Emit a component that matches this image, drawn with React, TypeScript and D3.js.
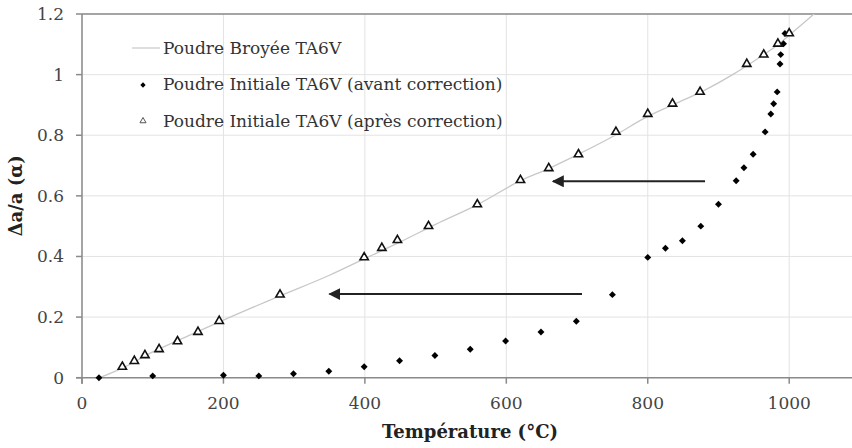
import React from 'react';
import * as d3 from 'd3';

// Poudre Broyée TA6V (courbe continue)
const broyeeT = [25, 60, 100, 150, 200, 280, 350, 400, 450, 500, 560, 620, 660, 700, 750, 800, 840, 880, 920, 960, 985, 1000, 1035, 1060];
const broyeeV = [0, 0.035, 0.085, 0.138, 0.19, 0.27, 0.338, 0.393, 0.448, 0.506, 0.572, 0.65, 0.69, 0.735, 0.795, 0.862, 0.905, 0.948, 1.0, 1.06, 1.1, 1.13, 1.2, 1.25];

// Poudre Initiale TA6V (avant correction)
const avantT = [24, 100, 200, 250, 299, 349, 399, 449, 499, 549, 599, 649, 699, 750, 800, 825, 849, 875, 900, 925, 936, 949, 966, 974, 978, 983, 987, 988, 992, 994];
const avantV = [0, 0.006, 0.008, 0.006, 0.013, 0.021, 0.036, 0.056, 0.073, 0.094, 0.121, 0.151, 0.186, 0.274, 0.397, 0.427, 0.452, 0.5, 0.572, 0.65, 0.693, 0.737, 0.811, 0.87, 0.904, 0.943, 1.035, 1.066, 1.102, 1.136];

// Poudre Initiale TA6V (après correction)
const apresT = [57, 74, 89, 109, 135, 164, 194, 280, 399, 424, 446, 490, 559, 620, 660, 702, 755, 800, 835, 874, 940, 964, 984, 1000];
const apresV = [0.036, 0.055, 0.074, 0.094, 0.12, 0.151, 0.187, 0.274, 0.397, 0.428, 0.454, 0.5, 0.572, 0.652, 0.691, 0.737, 0.811, 0.87, 0.904, 0.943, 1.035, 1.066, 1.102, 1.136];

// flèches (décalage)
const arrowFrom = [881, 707];
const arrowTo = [666, 350];
const arrowY = [0.648, 0.276];

const xTicks = [0, 200, 400, 600, 800, 1000];
const yTicks = [0, 0.2, 0.4, 0.6, 0.8, 1, 1.2];

const legendLabels = [
  'Poudre Broyée TA6V',
  'Poudre Initiale TA6V (avant correction)',
  'Poudre Initiale TA6V (après correction)',
];

const W = 852;
const H = 448;
const margin = { left: 82, top: 14 };
const FONT = "'DejaVu Serif', 'Liberation Serif', serif";

const x = d3.scaleLinear().domain([0, 1100]).range([margin.left, margin.left + 1100 * 0.7072]);
const y = d3.scaleLinear().domain([0, 1.2]).range([377.7, margin.top]);

const lineGen = d3
  .line<number>()
  .x((d, i) => x(broyeeT[i]))
  .y((d) => y(d))
  .curve(d3.curveMonotoneX);

const triPath = d3.symbol().type(d3.symbolTriangle).size(30)() || '';
const triSmall = d3.symbol().type(d3.symbolTriangle).size(16)() || '';
const diamond = d3.symbol().type(d3.symbolSquare).size(24)() || '';
const diamondSmall = d3.symbol().type(d3.symbolSquare).size(14)() || '';

const fmt = (v: number) => (v === 0 ? '0' : v === 1 ? '1' : d3.format('.1f')(v));

export default function App() {
  const x0 = x.range()[0];
  const x1 = W;
  return (
    <svg width={W} height={H} style={{ position: 'absolute', left: 0, top: 0, background: '#fff' }}>
      <defs>
        <clipPath id="plot">
          <rect x={x0} y={y(1.2)} width={x1 - x0} height={y(0) - y(1.2)} />
        </clipPath>
        <marker id="head" viewBox="0 0 10 10" refX="9" refY="5" markerWidth="6" markerHeight="6" orient="auto-start-reverse">
          <path d="M0,0 L10,5 L0,10 z" fill="#222" />
        </marker>
      </defs>

      {/* grille */}
      {xTicks.map((t) => (
        <line key={'gx' + t} x1={x(t)} x2={x(t)} y1={y(0)} y2={y(1.2)} stroke="#e3e3e3" strokeWidth={1} />
      ))}
      {yTicks.map((t) => (
        <line key={'gy' + t} x1={x0} x2={x1} y1={y(t)} y2={y(t)} stroke="#e3e3e3" strokeWidth={1} />
      ))}

      {/* axes */}
      <line x1={x0} x2={x1} y1={y(1.2)} y2={y(1.2)} stroke="#8a8a8a" strokeWidth={1.5} />
      <line x1={x0 - 6} x2={x1} y1={y(0)} y2={y(0)} stroke="#8a8a8a" strokeWidth={1.5} />
      <line x1={x0} x2={x0} y1={y(1.2)} y2={y(0) + 6} stroke="#8a8a8a" strokeWidth={1.5} />
      {xTicks.map((t) => (
        <g key={'tx' + t}>
          <line x1={x(t)} x2={x(t)} y1={y(0)} y2={y(0) + 6} stroke="#8a8a8a" strokeWidth={1.5} />
          <text x={x(t)} y={409} textAnchor="middle" style={{ fontFamily: FONT }} fontSize={17} fill="#444">
            {t}
          </text>
        </g>
      ))}
      {yTicks.map((t) => (
        <g key={'ty' + t}>
          <line x1={x0 - 6} x2={x0} y1={y(t)} y2={y(t)} stroke="#8a8a8a" strokeWidth={1.5} />
          <text x={x0 - 18} y={y(t)} dy="0.35em" textAnchor="end" style={{ fontFamily: FONT }} fontSize={17} fill="#444">
            {fmt(t)}
          </text>
        </g>
      ))}

      {/* titres */}
      <text x={470} y={438} textAnchor="middle" style={{ fontFamily: FONT }} fontSize={18} fontWeight="bold" fill="#222">
        Température (°C)
      </text>
      <text
        transform={`translate(22, ${(y(0) + y(1.2)) / 2}) rotate(-90)`}
        textAnchor="middle"
        style={{ fontFamily: FONT }}
        fontSize={18}
        fontWeight="bold"
        fill="#222"
      >
        Δa/a (α)
      </text>

      {/* courbe broyée */}
      <g clipPath="url(#plot)">
        <path d={lineGen(broyeeV) || ''} fill="none" stroke="#c8c8c8" strokeWidth={1.3} />
      </g>

      {/* flèches */}
      {arrowFrom.map((f, i) => (
        <line
          key={'ar' + i}
          x1={x(f)}
          x2={x(arrowTo[i])}
          y1={y(arrowY[i])}
          y2={y(arrowY[i])}
          stroke="#222"
          strokeWidth={2}
          markerEnd="url(#head)"
        />
      ))}

      {/* avant correction */}
      {avantT.map((t, i) => (
        <path
          key={'av' + i}
          d={diamond}
          transform={`translate(${x(t)},${y(avantV[i])}) rotate(45)`}
          fill="#000"
        />
      ))}

      {/* après correction */}
      {apresT.map((t, i) => (
        <path
          key={'ap' + i}
          d={triPath}
          transform={`translate(${x(t)},${y(apresV[i])})`}
          fill="#fff"
          stroke="#111"
          strokeWidth={1.6}
        />
      ))}

      {/* légende */}
      <g style={{ fontFamily: FONT }} fontSize={17} fill="#333">
        <line x1={132} x2={160} y1={48} y2={48} stroke="#c8c8c8" strokeWidth={1.2} />
        <path d={diamondSmall} transform="translate(143,85) rotate(45)" fill="#000" />
        <path d={triSmall} transform="translate(143,121)" fill="#fff" stroke="#555" strokeWidth={1} />
        {legendLabels.map((l, i) => (
          <text key={l} x={163} y={48 + i * 36.5} dy="0.35em">
            {l}
          </text>
        ))}
      </g>
    </svg>
  );
}
